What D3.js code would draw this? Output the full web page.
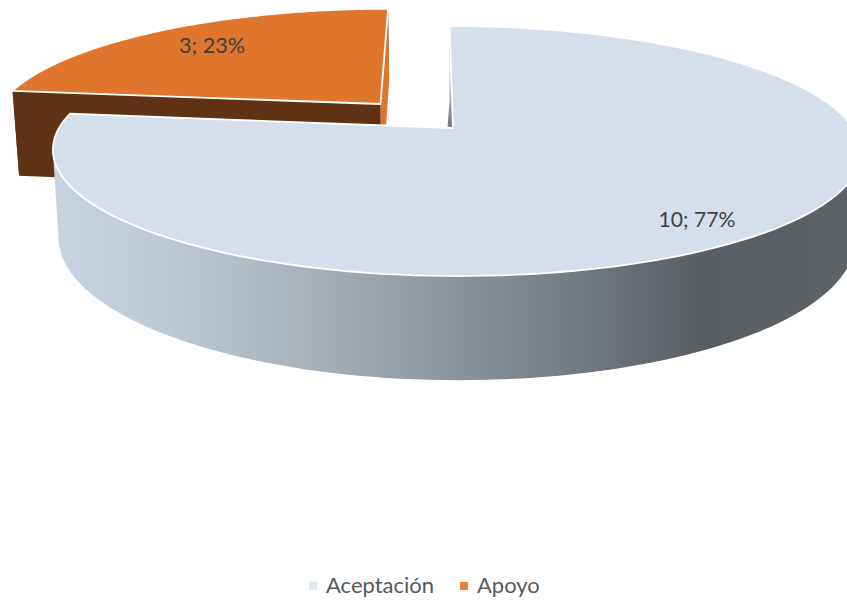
<!DOCTYPE html>
<html><head><meta charset="utf-8">
<script src="https://cdn.jsdelivr.net/npm/d3@7"></script>
<style>html,body{margin:0;background:#fff}svg{display:block}text{font-family:Lato,"Open Sans",sans-serif}</style>
</head><body><svg id="c" width="847" height="603"></svg>
<script>
const categories=["Aceptación","Apoyo"];
const values=[10,3];
const percents=["77%","23%"];
const topColors=["#d4dfeb","#e0752d"];
const legendColors=["#dce8f4","#ed7d31"];
const wallStops=[[52,"#c8d5e1"],[170,"#bcc9d4"],[300,"#a8b3bc"],[450,"#8b959d"],[600,"#6f757d"],[700,"#585e62"],[847,"#5d6266"]];

const W=847,H=603;
const svg=d3.select("#c");
const pie=d3.pie().sort(null).startAngle(0).endAngle(2*Math.PI)(values);
// perspective projection of the pie disc; z is the extrusion depth in pixels
const cx=453,cy=128,bL=394,bR=400,a=120.8,k=0.184,shear=-4,taper=0.000165;
const project=(u,v,z=0)=>{const w=1+k*v,b=u<0?bL:bR;return [cx+(b*u+shear*v)/w*(1-taper*z),cy-a*v/w+z/w];};
const explode=[[0,0],[-0.189,0.206]];
const depths=[85,90];
const pivotLean=[-0.03,0];
const line=d3.line();
const arcPts=(s,e,off,z)=>d3.range(0,161).map(i=>{const t=s+(e-s)*i/160;return project(off[0]+Math.sin(t),off[1]+Math.cos(t),z);});

const defs=svg.append("defs");
const g=defs.append("linearGradient").attr("id","wall").attr("gradientUnits","userSpaceOnUse")
 .attr("x1",0).attr("x2",W).attr("y1",0).attr("y2",0);
wallStops.forEach(s=>g.append("stop").attr("offset",s[0]/W).attr("stop-color",s[1]));
const sg=defs.append("linearGradient").attr("id","sliver").attr("x1",0).attr("x2",0).attr("y1",0).attr("y2",1);
[[0.18,"#ffffff"],[0.5,"#7d8389"],[0.7,"#565c62"]].forEach(s=>sg.append("stop").attr("offset",s[0]).attr("stop-color",s[1]));

function drawSlice(i,wallFill,firstFill,lastFill){
  const d=pie[i],off=explode[i],D=depths[i];
  const c0=project(off[0],off[1],0),c1=project(off[0]+pivotLean[i],off[1],D);
  const top=arcPts(d.startAngle,d.endAngle,off,0);
  const bot=arcPts(d.startAngle,d.endAngle,off,D);
  // outer wall: one path of consistently wound quads, so the union has no seams
  const quads=d3.range(top.length-1).map(j=>{
    const q=[top[j],top[j+1],bot[j+1],bot[j]];
    return line(d3.polygonArea(q)<0?q.reverse():q)+"Z";
  }).join("");
  svg.append("path").attr("d",quads).attr("fill",wallFill);
  // radial side faces
  svg.append("path").attr("d",line([c0,top[top.length-1],bot[bot.length-1],c1])+"Z").attr("fill",lastFill);
  svg.append("path").attr("d",line([c0,top[0],bot[0],c1])+"Z").attr("fill",firstFill);
  // top face
  svg.append("path").attr("d",line([c0].concat(top))+"Z").attr("fill",topColors[i])
    .attr("stroke","#fff").attr("stroke-width",1.8).attr("stroke-linejoin","round");
}
drawSlice(1,"#5f3213","#5f3213","#e0752d");
drawSlice(0,"url(#wall)","url(#sliver)","none");

svg.append("text").attr("x",212).attr("y",53).attr("text-anchor","middle").attr("font-size",21.6).attr("fill","#404040").text(values[1]+"; "+percents[1]);
svg.append("text").attr("x",697).attr("y",227).attr("text-anchor","middle").attr("font-size",21.2).attr("fill","#404040").text(values[0]+"; "+percents[0]);

const legendX=d3.scaleOrdinal().domain(categories).range([309,460]);
const lg=svg.selectAll("g.l").data(categories).enter().append("g").attr("transform",c=>`translate(${legendX(c)},582)`);
lg.append("rect").attr("width",8).attr("height",8).attr("fill",(c,i)=>legendColors[i]);
lg.append("text").attr("x",17).attr("y",11).attr("font-size",22).attr("fill","#595959").text(c=>c);
</script></body></html>
